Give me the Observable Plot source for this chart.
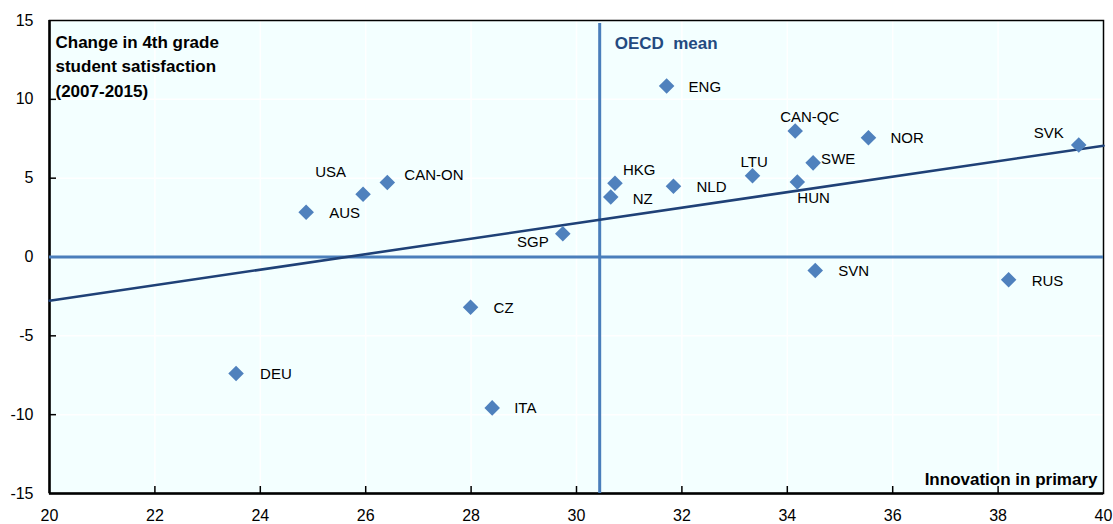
<!DOCTYPE html>
<html>
<head>
<meta charset="utf-8">
<script src="https://cdn.jsdelivr.net/npm/d3@7"></script>
<script src="https://cdn.jsdelivr.net/npm/@observablehq/plot@0.6"></script>
<style>
  html, body { margin: 0; padding: 0; background: #ffffff; }
  #chart svg { display: block; }
</style>
</head>
<body>
<div id="chart"></div>
<script>
// ---- data ----
const countries    = ["ENG", "CAN-QC", "NOR", "SVK", "HKG", "NZ", "NLD", "LTU", "SWE", "HUN",
                      "USA", "CAN-ON", "AUS", "SGP", "CZ", "DEU", "ITA", "SVN", "RUS"];
const innovation   = [31.71, 34.15, 35.54, 39.53, 30.73, 30.65, 31.84, 33.34, 34.49, 34.19,
                      25.95, 26.41, 24.87, 29.74, 27.99, 23.54, 28.40, 34.53, 38.20];
const satisfaction = [10.85, 7.99, 7.56, 7.10, 4.68, 3.81, 4.49, 5.15, 5.97, 4.76,
                      3.98, 4.73, 2.84, 1.48, -3.19, -7.39, -9.57, -0.85, -1.44];
const xTicks = [20, 22, 24, 26, 28, 30, 32, 34, 36, 38, 40];
const yTicks = [-15, -10, -5, 0, 5, 10, 15];
const oecdMeanX = [30.44];
const zeroY = [0];
const trendX = [20, 40];
const trendY = [-2.77, 7.06];
const xTitle = "Innovation in primary";
const yTitle = "Change in 4th grade\nstudent satisfaction\n(2007-2015)";
const meanTitle = "OECD  mean";

// ---- tables built from the arrays ----
const points = countries.map((c, i) => ({ country: c, x: innovation[i], y: satisfaction[i] }));
const trend = trendX.map((x, i) => ({ x, y: trendY[i] }));

// label placement (pixel offsets, style only)
const place = {
  "ENG":    { dx: 22,  dy: 1,   anchor: "start" },
  "CAN-QC": { dx: -15, dy: -14, anchor: "start" },
  "NOR":    { dx: 22,  dy: 0,   anchor: "start" },
  "SVK":    { dx: -15, dy: -12, anchor: "end" },
  "HKG":    { dx: 8,   dy: -13, anchor: "start" },
  "NZ":     { dx: 22,  dy: 2,   anchor: "start" },
  "NLD":    { dx: 23,  dy: 1,   anchor: "start" },
  "LTU":    { dx: -12, dy: -14, anchor: "start" },
  "SWE":    { dx: 8,   dy: -4,  anchor: "start" },
  "HUN":    { dx: 0,   dy: 16,  anchor: "start" },
  "USA":    { dx: -17, dy: -22, anchor: "end" },
  "CAN-ON": { dx: 17,  dy: -7,  anchor: "start" },
  "AUS":    { dx: 23,  dy: 1,   anchor: "start" },
  "SGP":    { dx: -14, dy: 9,   anchor: "end" },
  "CZ":     { dx: 23,  dy: 1,   anchor: "start" },
  "DEU":    { dx: 24,  dy: 1,   anchor: "start" },
  "ITA":    { dx: 22,  dy: 0,   anchor: "start" },
  "SVN":    { dx: 23,  dy: 1,   anchor: "start" },
  "RUS":    { dx: 23,  dy: 1,   anchor: "start" }
};

const W = 1113, H = 524;
const mL = 49, mR = 10, mT = 20, mB = 31;
const plotW = W - mL - mR, plotH = H - mT - mB;

const font = "Liberation Sans, Arial, Helvetica, sans-serif";
const pointColor = "#4F81BD";
const meanColor = "#4A7EBB";
const trendColor = "#1F4177";

const labelMarks = points.map(d => {
  const p = place[d.country];
  return Plot.text([d], {
    x: "x", y: "y", text: "country",
    dx: p.dx, dy: p.dy, textAnchor: p.anchor,
    fontSize: 15, fill: "#000000"
  });
});

const chart = Plot.plot({
  width: W,
  height: H,
  marginLeft: mL,
  marginRight: mR,
  marginTop: mT,
  marginBottom: mB,
  style: { fontFamily: font, background: "#ffffff", overflow: "visible" },
  x: { domain: [20, 40] },
  y: { domain: [-15, 15] },
  marks: [
    Plot.frame({ fill: "#F3FFFF", stroke: null }),
    Plot.gridX(xTicks, { stroke: "#ffffff", strokeOpacity: 1, strokeWidth: 1.5 }),
    Plot.gridY(yTicks, { stroke: "#ffffff", strokeOpacity: 1, strokeWidth: 1.5 }),
    Plot.frame({ stroke: "#000000", strokeWidth: 1.5 }),
    Plot.ruleX([20], { stroke: "#000000", strokeWidth: 2.5 }),
    Plot.ruleY([-15], { stroke: "#000000", strokeWidth: 2.5 }),
    // inward tick marks
    Plot.tickX(xTicks.slice(1, -1), { x: d => d, stroke: "#000000", strokeWidth: 1.5, insetTop: plotH - 7 }),
    Plot.tickY(yTicks.slice(1, -1), { y: d => d, stroke: "#000000", strokeWidth: 1.5, insetRight: plotW - 7 }),
    Plot.axisX(xTicks, { tickSize: 0, tickPadding: 16, fontSize: 16, label: null, tickFormat: d => String(d) }),
    Plot.axisY(yTicks, { tickSize: 0, tickPadding: 16, fontSize: 16, label: null, tickFormat: d => String(d) }),
    // reference lines
    Plot.ruleY(zeroY, { stroke: meanColor, strokeWidth: 3 }),
    Plot.ruleX(oecdMeanX, { stroke: meanColor, strokeWidth: 3, insetTop: 3 }),
    Plot.line(trend, { x: "x", y: "y", stroke: trendColor, strokeWidth: 2.6 }),
    // points
    Plot.dot(points, { x: "x", y: "y", symbol: "diamond2", r: 7, fill: pointColor, stroke: null }),
    ...labelMarks,
    // titles
    Plot.text([yTitle], { frameAnchor: "top-left", dx: 6, dy: 10, lineAnchor: "top", lineHeight: 1.44,
                          fontSize: 17, fontWeight: "bold", fill: "#000000", textAnchor: "start" }),
    Plot.text([xTitle], { frameAnchor: "bottom-right", dx: -6, dy: -9, lineAnchor: "bottom",
                          fontSize: 17, fontWeight: "bold", fill: "#000000", textAnchor: "end" }),
    Plot.text(oecdMeanX, { x: d => d, frameAnchor: "top", dx: 15, dy: 16, lineAnchor: "top", text: () => meanTitle,
                           fontSize: 17, fontWeight: "bold", fill: "#234A80", textAnchor: "start" })
  ]
});

document.getElementById("chart").appendChild(chart);
</script>
</body>
</html>
